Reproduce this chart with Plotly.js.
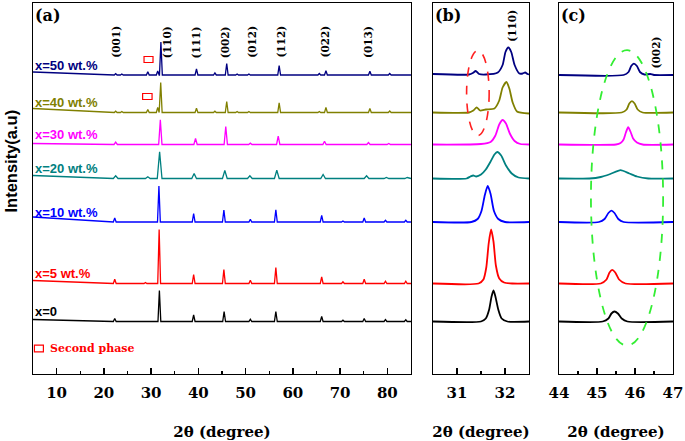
<!DOCTYPE html>
<html><head><meta charset="utf-8">
<script src="https://cdn.plot.ly/plotly-3.0.1.min.js"></script>
<style>html,body{margin:0;padding:0;background:#fff}#chart{width:685px;height:441px}</style>
</head><body><div id="chart"></div>
<script>
// ---------- data ----------
const samples = ['x=0', 'x=5 wt.%', 'x=10 wt.%', 'x=20 wt.%', 'x=30 wt.%', 'x=40 wt.%', 'x=50 wt.%'];
const colors = ['#000000', '#ff0000', '#0000ff', '#008080', '#ff00ff', '#808000', '#000080'];
// vertical offset (a.u.) of each pattern
const offsets = [52.5, 90.5, 152, 195.5, 229.5, 261.5, 299];
// extra background at the low-angle end of panel (a)
const lowAngleBg = [2, 3, 5, 3, 1, 4, 3];
// half base width of the peaks in panel (a), degrees
const peakHalfWidth = [0.3, 0.3, 0.3, 0.5, 0.35, 0.3, 0.3];

// panel (a): peak positions (2θ) and heights (a.u.)
const pos0 = [22.3, 31.75, 39.0, 45.45, 51.0, 56.4, 66.1, 70.6, 75.1, 79.6, 83.9];
const h0   = [3, 31, 6.5, 10, 2.3, 10, 5, 1.3, 3, 2, 1.7];
const pos5 = [22.3, 28.8, 31.7, 39.0, 45.4, 51.0, 56.4, 66.1, 70.6, 75.1, 79.6, 83.9];
const h5   = [4.3, 1, 54, 9, 14, 3.3, 16, 6.7, 1.7, 4.3, 2.3, 2.3];
const pos10 = [22.3, 31.65, 39.0, 45.4, 51.0, 56.4, 66.1, 70.6, 75.1, 79.6, 83.9];
const h10   = [4, 36, 8.3, 12, 2.7, 12.3, 6.7, 1, 4, 1.7, 1.7];
const pos20 = [22.5, 29.3, 31.8, 39.1, 45.6, 50.9, 56.6, 66.4, 75.6, 79.8, 84.2];
const h20   = [2.7, 1.7, 26.6, 5, 8, 2.7, 8.3, 4, 2.7, 1, 1];
const pos30 = [22.5, 31.95, 39.4, 45.8, 51.0, 56.9, 66.7, 76.0, 80.3];
const h30   = [2.3, 24.7, 6, 18, 1.3, 8.3, 3.3, 2, 1];
const pos40 = [22.5, 23.8, 29.3, 31.4, 32.03, 39.6, 43.5, 46.0, 48.2, 50.7, 57.1, 65.6, 67.0, 76.3, 80.5];
const h40   = [1.3, 1, 3, 5, 30, 4.3, 1.3, 11, 1, 1, 9.7, 1, 5, 4, 1.5];
const pos50 = [22.5, 23.8, 29.3, 31.4, 32.07, 39.6, 43.5, 46.0, 48.2, 50.7, 57.1, 65.6, 67.0, 76.3, 80.5];
const h50   = [1.3, 1, 3.3, 4, 33, 6, 2, 11.5, 1, 1, 9.3, 1.5, 4.3, 3.7, 1.5];
const peakPos = [pos0, pos5, pos10, pos20, pos30, pos40, pos50];
const peakH = [h0, h5, h10, h20, h30, h40, h50];

// panel (b): (110) region (2θ, intensity above offset)
const bX0 = [30.5, 31.5, 31.6, 31.67, 31.72, 31.76, 31.8, 31.86, 31.93, 32.05, 32.5];
const bY0 = [0, 0, 3, 12, 25, 31, 25, 12, 3, 0, 0];
const bX5 = [30.5, 31.45, 31.55, 31.61, 31.66, 31.71, 31.76, 31.81, 31.88, 31.98, 32.15, 32.5];
const bY5 = [0, 0, 4, 16, 40, 54, 42, 18, 5, 1, 0, 0];
const bX10 = [30.5, 31.3, 31.43, 31.51, 31.58, 31.64, 31.7, 31.77, 31.86, 32.0, 32.5];
const bY10 = [0, 0, 3, 11, 27, 36, 28, 11, 3, 0, 0];
const bX20 = [30.5, 31.2, 31.28, 31.34, 31.4, 31.5, 31.6, 31.7, 31.78, 31.84, 31.92, 32.02, 32.14, 32.28, 32.5];
const bY20 = [0, 0, 2, 3, 2, 4, 9, 17, 24, 26.5, 23, 13, 5, 1, 0];
const bX30 = [30.5, 31.5, 31.7, 31.8, 31.88, 31.95, 32.02, 32.1, 32.2, 32.32, 32.5];
const bY30 = [0, 0.5, 2.5, 9, 20, 24.5, 21, 11, 3.5, 0.5, 0];
const bX40 = [30.5, 31.25, 31.34, 31.41, 31.48, 31.6, 31.78, 31.88, 31.95, 32.03, 32.09, 32.16, 32.25, 32.5];
const bY40 = [0, 0, 2, 5, 2, 3, 4, 12, 25, 30.5, 24, 10, 1, -1];
const bX50 = [30.5, 31.25, 31.33, 31.39, 31.46, 31.6, 31.85, 31.95, 32.01, 32.07, 32.13, 32.2, 32.3, 32.37, 32.42, 32.47, 32.5];
const bY50 = [1, 0.5, 2, 4, 1, 0.5, 2.5, 10, 23, 27.5, 23, 10, 1.5, 1.5, 2.5, 1, 0.5];
const bXs = [bX0, bX5, bX10, bX20, bX30, bX40, bX50];
const bYs = [bY0, bY5, bY10, bY20, bY30, bY40, bY50];

// panel (c): (002) region
const cX0 = [44, 45.15, 45.3, 45.38, 45.46, 45.55, 45.65, 45.8, 47];
const cY0 = [0, 0, 3, 8, 10, 8, 3, 0, 0];
const cX5 = [44, 45.1, 45.25, 45.33, 45.4, 45.48, 45.58, 45.75, 47];
const cY5 = [0, 0, 4, 11, 13.7, 11, 4, 0, 0];
const cX10 = [44, 45.05, 45.2, 45.3, 45.38, 45.46, 45.56, 45.7, 47];
const cY10 = [0, 0, 3, 9, 11.3, 9, 3, 0, 0];
const cX20 = [44, 44.8, 45.1, 45.35, 45.62, 45.85, 46.05, 46.35, 47];
const cY20 = [0, 0, 1.5, 4.5, 8.3, 5, 2, 0, 0];
const cX30 = [44, 45.5, 45.62, 45.7, 45.76, 45.82, 45.88, 45.95, 46.05, 46.2, 47];
const cY30 = [0, 0, 1.5, 5, 12, 17.3, 13, 6, 2, 0, 0];
const cX40 = [44, 45.65, 45.78, 45.85, 45.92, 45.99, 46.07, 46.2, 47];
const cY40 = [0, 0, 3, 9, 11.3, 9, 3, 0, 0];
const cX50 = [44, 45.7, 45.83, 45.9, 45.97, 46.05, 46.13, 46.25, 46.4, 46.5, 47];
const cY50 = [0, 0, 3, 9, 11.4, 9, 3, 0.5, 1, 0, 0];
const cXs = [cX0, cX5, cX10, cX20, cX30, cX40, cX50];
const cYs = [cY0, cY5, cY10, cY20, cY30, cY40, cY50];

// reflection labels and ticks
const hklA = ['(001)', '(110)', '(111)', '(002)', '(012)', '(112)', '(022)', '(013)'];
const hklPosA = [22.5, 33.4, 39.6, 45.7, 51.3, 57.4, 66.7, 75.9];
const tickA = [10, 20, 30, 40, 50, 60, 70, 80];

// ---------- traces ----------
const traces = [];
for (let i = 0; i < samples.length; i++) {
  const xs = [5], ys = [offsets[i] + lowAngleBg[i]];
  const w = peakHalfWidth[i];
  peakPos[i].forEach((p, k) => {
    xs.push(p - w, p, p + w);
    ys.push(offsets[i], offsets[i] + peakH[i][k], offsets[i]);
  });
  xs.push(85); ys.push(offsets[i]);
  traces.push({x: xs, y: ys, xaxis: 'x', yaxis: 'y', mode: 'lines', name: samples[i],
    line: {color: colors[i], width: 1.3}, showlegend: false, hoverinfo: 'skip'});
  traces.push({x: bXs[i], y: bYs[i].map(v => v + offsets[i]), xaxis: 'x2', yaxis: 'y2', mode: 'lines', name: samples[i],
    line: {color: colors[i], width: 1.8, shape: 'spline', smoothing: 0.6}, showlegend: false, hoverinfo: 'skip'});
  traces.push({x: cXs[i], y: cYs[i].map(v => v + offsets[i]), xaxis: 'x3', yaxis: 'y3', mode: 'lines', name: samples[i],
    line: {color: colors[i], width: 1.8, shape: 'spline', smoothing: 0.6}, showlegend: false, hoverinfo: 'skip'});
}

// ---------- layout ----------
const SERIF = 'DejaVu Serif';
const SANS = 'Liberation Sans';
function sb(size, color) { return {family: SERIF, weight: 'bold', color: color || '#000', size: size}; }
const xbase = {
  showline: true, mirror: true, linecolor: '#000', linewidth: 1.3,
  ticks: 'inside', ticklen: 6, tickwidth: 1.3, tickcolor: '#000',
  showgrid: false, zeroline: false, ticklabelstandoff: 5,
  tickfont: sb(15),
  fixedrange: true
};
const xtitle = {text: '2θ (degree)', font: sb(15), standoff: 27};
const minorA = {dtick: 5, tick0: 0, ticks: 'inside', ticklen: 3, tickwidth: 1.2, tickcolor: '#000'};
const minorBC = {dtick: 0.5, tick0: 0, ticks: 'inside', ticklen: 3, tickwidth: 1.2, tickcolor: '#000'};
const ybase = {
  range: [0, 371], showline: true, mirror: true, linecolor: '#000', linewidth: 1.3,
  showticklabels: false, ticks: '', showgrid: false, zeroline: false, fixedrange: true
};
const layout = {
  width: 685, height: 441,
  margin: {l: 33, r: 12, t: 3, b: 67},
  paper_bgcolor: '#fff', plot_bgcolor: '#fff',
  xaxis: Object.assign({}, xbase, {domain: [0, 0.5906], range: [5, 85], tickvals: tickA, minor: minorA, title: xtitle}),
  yaxis: Object.assign({}, ybase, {anchor: 'x'}),
  xaxis2: Object.assign({}, xbase, {domain: [0.625, 0.775], range: [30.5, 32.5], dtick: 1, tick0: 0, anchor: 'y2', minor: minorBC, title: xtitle}),
  yaxis2: Object.assign({}, ybase, {anchor: 'x2'}),
  xaxis3: Object.assign({}, xbase, {domain: [0.8219, 1], range: [44, 47], dtick: 1, tick0: 0, anchor: 'y3', minor: minorBC, title: xtitle}),
  yaxis3: Object.assign({}, ybase, {anchor: 'x3'}),
  shapes: [
    {type: 'rect', xref: 'x', yref: 'y', x0: 28.5, x1: 30.4, y0: 311.5, y1: 317.5, line: {color: '#ff0000', width: 1.2}},
    {type: 'rect', xref: 'x', yref: 'y', x0: 28.2, x1: 30.2, y0: 274.5, y1: 280.5, line: {color: '#ff0000', width: 1.2}},
    {type: 'rect', xref: 'x', yref: 'y', x0: 5.3, x1: 7.2, y0: 22.2, y1: 28.8, line: {color: '#ff0000', width: 1.2}},
    {type: 'circle', xref: 'x2', yref: 'y2', x0: 31.2, x1: 31.67, y0: 238.5, y1: 323.5, line: {color: '#ff2020', width: 1.6, dash: 'dash'}},
    {type: 'circle', xref: 'x3', yref: 'y3', x0: 44.84, x1: 46.74, y0: 28.5, y1: 323.8, line: {color: '#33ee33', width: 1.8, dash: 'dash'}}
  ],
  annotations: []
};
const A = layout.annotations;
samples.forEach((s, i) => A.push({xref: 'x', yref: 'y', x: 5, y: offsets[i] + 10, xanchor: 'left', yanchor: 'middle',
  text: s, showarrow: false, font: {family: SANS, size: 13, weight: 'bold', color: colors[i]}}));
hklA.forEach((t, k) => A.push({xref: 'x', yref: 'y', x: hklPosA[k], y: 332, text: t, textangle: -90, showarrow: false, font: sb(10.5)}));
A.push({xref: 'x2', yref: 'y2', x: 32.14, y: 348, text: '(110)', textangle: -90, showarrow: false, font: sb(10.5)});
A.push({xref: 'x3', yref: 'y3', x: 46.55, y: 321.5, text: '(002)', textangle: -90, showarrow: false, font: sb(10.5)});
[['(a)', 'x domain', 'y domain'], ['(b)', 'x2 domain', 'y2 domain'], ['(c)', 'x3 domain', 'y3 domain']].forEach(p =>
  A.push({xref: p[1], yref: p[2], x: 0, y: 1, xanchor: 'left', yanchor: 'top', yshift: -1, text: p[0], showarrow: false, font: sb(16)}));
A.push({xref: 'x', yref: 'y', x: 8.2, y: 25.5, xanchor: 'left', yanchor: 'middle', text: 'Second phase', showarrow: false, font: sb(11, '#ff0000')});
A.push({xref: 'paper', yref: 'paper', x: -22 / 640, y: (374 - 161.5) / 371, xanchor: 'center', yanchor: 'middle', text: 'Intensity(a.u)',
  textangle: -90, showarrow: false, font: {family: SANS, size: 16.5, weight: 'bold', color: '#000'}});

Plotly.newPlot('chart', traces, layout, {displayModeBar: false, staticPlot: true});
</script></body></html>
